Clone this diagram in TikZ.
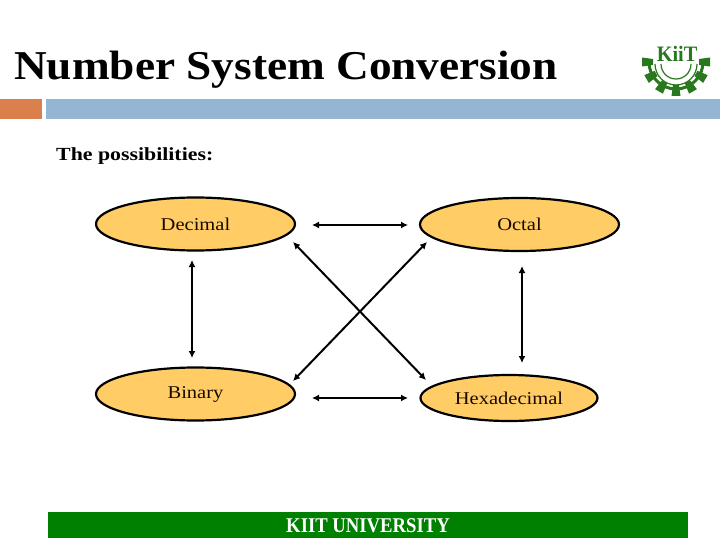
\documentclass[tikz,border=0pt]{standalone}
\usepackage{graphicx}
\usepackage{fontspec}
\setmainfont{Liberation Serif}
\usetikzlibrary{shapes.geometric,arrows.meta}
\definecolor{kgreen}{RGB}{0,128,0}
\definecolor{korange}{RGB}{218,128,76}
\definecolor{kblue}{RGB}{148,182,212}
\definecolor{kfill}{RGB}{255,204,102}
\definecolor{klogo}{RGB}{40,120,30}
\definecolor{kink}{RGB}{25,10,0}
\newcommand{\widetxt}[2]{\scalebox{#1}[1]{#2}}
\tikzset{
 numnode/.style={ellipse,draw=black,line width=2.2pt,fill=kfill,inner sep=0pt,text=kink,font=\fontsize{18}{20}\selectfont},
 link/.style={{Latex[length=7pt,width=7pt]}-{Latex[length=7pt,width=7pt]},line width=2pt,black},
}
\begin{document}
\begin{tikzpicture}[x=1pt,y=-1pt]
\useasboundingbox (0,0) rectangle (720,540);
\fill[white] (0,0) rectangle (720,540);
\node[anchor=base west,inner sep=0pt,font=\bfseries\fontsize{41}{44}\selectfont] (title) at (14,80) {\widetxt{1.105}{Number System Conversion}};
\fill[korange] (0,99) rectangle (42,119);
\fill[kblue] (46,99) rectangle (720,119);
\node[anchor=base west,inner sep=0pt,font=\bfseries\fontsize{18.5}{20}\selectfont] (sub) at (56,161) {\widetxt{1.18}{The possibilities:}};
\node[numnode,minimum width=199pt,minimum height=53pt] (dec) at (195.5,224) {\widetxt{1.14}{Decimal}};
\node[numnode,minimum width=199pt,minimum height=53pt] (oct) at (519.5,224.5) {\widetxt{1.14}{Octal}};
\node[numnode,minimum width=199pt,minimum height=53pt] (bin) at (195.5,394) {\raisebox{-1pt}{\widetxt{1.14}{Binary}}};
\node[numnode,minimum width=177pt,minimum height=46pt] (hex) at (509,398) {\widetxt{1.14}{Hexadecimal}};
\coordinate (a1) at (312,225); \coordinate (a2) at (408,225);
\coordinate (b1) at (312,398); \coordinate (b2) at (408,398);
\coordinate (c1) at (192,260); \coordinate (c2) at (192,358);
\coordinate (d1) at (522,266); \coordinate (d2) at (522,363);
\coordinate (e1) at (293,242); \coordinate (e2) at (426,380);
\coordinate (f1) at (427,242); \coordinate (f2) at (293,381);
\draw[link] (a1) -- (a2);
\draw[link] (b1) -- (b2);
\draw[link] (c1) -- (c2);
\draw[link] (d1) -- (d2);
\draw[link] (e1) -- (e2);
\draw[link] (f1) -- (f2);
\fill[kgreen] (48,512) rectangle (688,538);
\node[inner sep=0pt,text=white,font=\bfseries\fontsize{21}{22}\selectfont] (foot) at (368,525.5) {\widetxt{0.89}{KIIT UNIVERSITY}};
% logo
\begin{scope}[klogo]
\foreach \a in {-90,-60,-30,0,30,60,90}{
 \fill[rotate around={\a:(676,62)}] (673,85) -- (679,85) -- (680.5,96) -- (671.5,96) -- cycle;
}
\draw[line width=3pt] (649,62) arc[start angle=180,end angle=0,radius=27];
\draw[line width=1.2pt] (655,64) arc[start angle=180,end angle=0,radius=21];
\draw[line width=1.2pt] (661,64) arc[start angle=180,end angle=0,radius=15];
\fill[white] (657,45) rectangle (698,62);
\node[inner sep=0pt,font=\bfseries\fontsize{22}{22}\selectfont,text=klogo] (logo) at (677,54) {\widetxt{0.92}{KiiT}};
\end{scope}
\end{tikzpicture}
\end{document}
